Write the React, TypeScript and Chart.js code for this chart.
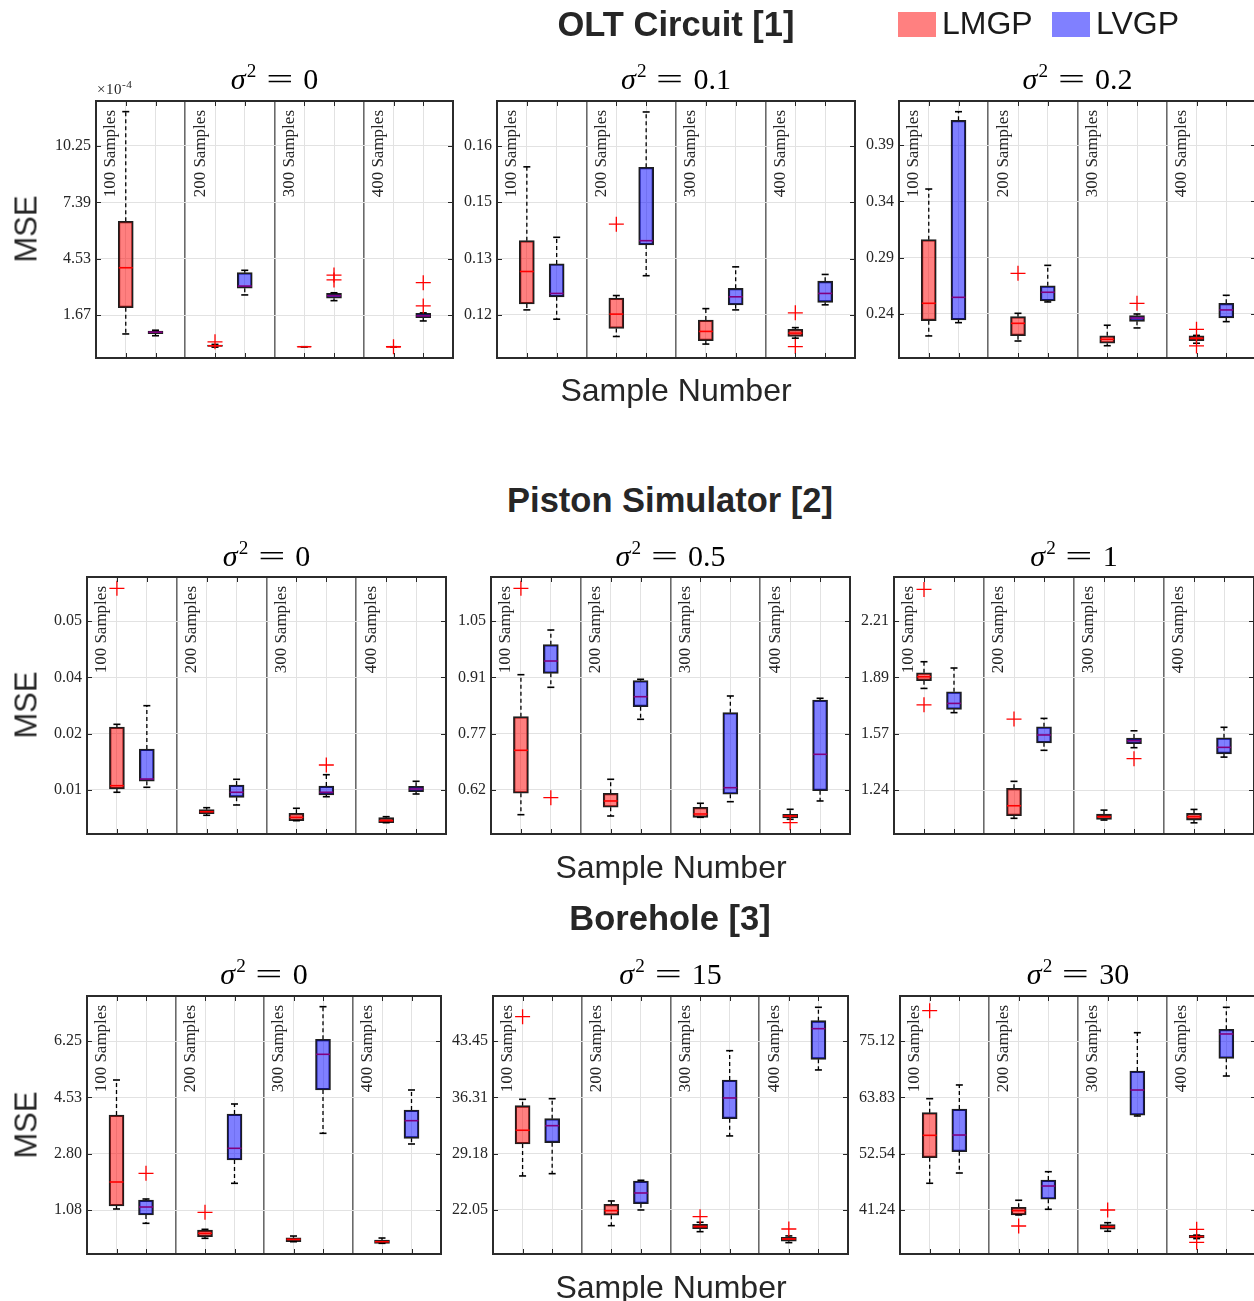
import React, { useEffect, useRef } from 'react';
import { Chart, registerables } from 'chart.js';

Chart.register(...registerables);

const GROUPS = ['100 Samples', '200 Samples', '300 Samples', '400 Samples'];
const SERIES = ['LMGP', 'LVGP'];

// Box statistics per group: [lower whisker, Q1, median, Q3, upper whisker]

// OLT Circuit [1], sigma^2 = 0   (MSE in units of 1e-4)
const olt0_LMGP = [
  [0.71, 2.04, 4.07, 6.43, 11.99],
  [0.04, 0.08, 0.11, 0.15, 0.18],
  [0.058, 0.059, 0.06, 0.061, 0.062],
  [0.058, 0.059, 0.06, 0.061, 0.062],
];
const olt0_LVGP = [
  [0.62, 0.72, 0.8, 0.86, 0.9],
  [2.69, 3.03, 3.14, 3.82, 3.94],
  [2.4, 2.52, 2.65, 2.77, 2.8],
  [1.37, 1.53, 1.63, 1.76, 1.78],
];
const olt0_LMGP_out = [[], [0.31], [], [0.06]];
const olt0_LVGP_out = [[], [], [3.45, 3.7], [2.13, 3.31]];
const olt0_ticks = [1.67, 4.53, 7.39, 10.25];
const olt0_tickLabels = ['1.67', '4.53', '7.39', '10.25'];
const olt0_range = [-0.51, 12.53];

// OLT Circuit [1], sigma^2 = 0.1
const olt1_LMGP = [
  [0.1212, 0.1226, 0.1303, 0.1376, 0.1551],
  [0.1149, 0.1168, 0.1202, 0.124, 0.1246],
  [0.1131, 0.1139, 0.1161, 0.1188, 0.1215],
  [0.1145, 0.1149, 0.1157, 0.1166, 0.117],
];
const olt1_LVGP = [
  [0.119, 0.1243, 0.1251, 0.1321, 0.1384],
  [0.1293, 0.1366, 0.1376, 0.155, 0.1681],
  [0.1212, 0.1224, 0.1243, 0.1263, 0.1314],
  [0.1224, 0.123, 0.1251, 0.128, 0.1296],
];
const olt1_LMGP_out = [[], [0.1415], [], [0.1205, 0.1125]];
const olt1_LVGP_out = [[], [], [], []];
const olt1_ticks = [0.12, 0.1333, 0.1467, 0.16];
const olt1_tickLabels = ['0.12', '0.13', '0.15', '0.16'];
const olt1_range = [0.1098, 0.1707];

// OLT Circuit [1], sigma^2 = 0.2
const olt2_LMGP = [
  [0.2205, 0.2341, 0.2495, 0.306, 0.351],
  [0.216, 0.2207, 0.2317, 0.2376, 0.2406],
  [0.2118, 0.214, 0.2175, 0.2207, 0.23],
  [0.214, 0.2163, 0.2184, 0.2205, 0.221],
];
const olt2_LVGP = [
  [0.2323, 0.2347, 0.2548, 0.412, 0.4197],
  [0.2507, 0.2515, 0.2593, 0.2651, 0.2832],
  [0.2276, 0.2335, 0.2364, 0.2385, 0.24],
  [0.2332, 0.2364, 0.2436, 0.2495, 0.2566],
];
const olt2_LMGP_out = [[], [0.2761], [], [0.2264, 0.2116]];
const olt2_LVGP_out = [[], [], [0.2495], []];
const olt2_ticks = [0.24, 0.29, 0.34, 0.39];
const olt2_tickLabels = ['0.24', '0.29', '0.34', '0.39'];
const olt2_range = [0.2009, 0.4292];

// Piston Simulator [2], sigma^2 = 0
const pis0_LMGP = [
  [0.00946, 0.01024, 0.01102, 0.02491, 0.02555],
  [0.00401, 0.00439, 0.00486, 0.00534, 0.00581],
  [0.00273, 0.00273, 0.00354, 0.00448, 0.00567],
  [0.00226, 0.00226, 0.00273, 0.00344, 0.00368],
];
const pis0_LVGP = [
  [0.01064, 0.01206, 0.0126, 0.01971, 0.02996],
  [0.00645, 0.00827, 0.00946, 0.01118, 0.01253],
  [0.00841, 0.00882, 0.00946, 0.01095, 0.01362],
  [0.00905, 0.0096, 0.01024, 0.01088, 0.01206],
];
const pis0_LMGP_out = [[0.05775], [], [], []];
const pis0_LVGP_out = [[], [], [0.01592], []];
const pis0_ticks = [0.01, 0.02333, 0.03667, 0.05];
const pis0_tickLabels = ['0.01', '0.02', '0.04', '0.05'];
const pis0_range = [-0.00042, 0.06043];

// Piston Simulator [2], sigma^2 = 0.5
const pis1_LMGP = [
  [0.5617, 0.6157, 0.7241, 0.8089, 0.9148],
  [0.5584, 0.5804, 0.5963, 0.6157, 0.651],
  [0.5551, 0.5551, 0.5635, 0.5804, 0.5905],
  [0.5501, 0.5534, 0.5584, 0.5627, 0.5753],
];
const pis1_LVGP = [
  [0.883, 0.9183, 0.9493, 0.9905, 1.0275],
  [0.8023, 0.8341, 0.8593, 0.8997, 0.9032],
  [0.5945, 0.6132, 0.6298, 0.819, 0.8611],
  [0.5963, 0.6222, 0.714, 0.851, 0.8553],
];
const pis1_LMGP_out = [[1.1327], [], [], [0.5415]];
const pis1_LVGP_out = [[0.6046], [], [], []];
const pis1_ticks = [0.624, 0.766, 0.908, 1.05];
const pis1_tickLabels = ['0.62', '0.77', '0.91', '1.05'];
const pis1_range = [0.513, 1.1612];

// Piston Simulator [2], sigma^2 = 1
const pis2_LMGP = [
  [1.826, 1.87, 1.893, 1.916, 1.979],
  [1.081, 1.096, 1.153, 1.253, 1.293],
  [1.071, 1.075, 1.09, 1.105, 1.128],
  [1.055, 1.071, 1.09, 1.109, 1.132],
];
const pis2_LVGP = [
  [1.687, 1.706, 1.74, 1.807, 1.943],
  [1.471, 1.514, 1.559, 1.606, 1.654],
  [1.486, 1.509, 1.526, 1.541, 1.583],
  [1.432, 1.451, 1.488, 1.543, 1.603],
];
const pis2_LMGP_out = [[2.394, 1.732], [1.65], [], []];
const pis2_LVGP_out = [[], [], [1.423], []];
const pis2_ticks = [1.243, 1.566, 1.889, 2.212];
const pis2_tickLabels = ['1.24', '1.57', '1.89', '2.21'];
const pis2_range = [0.991, 2.465];

// Borehole [3], sigma^2 = 0
const bor0_LMGP = [
  [1.111, 1.202, 1.937, 3.987, 5.058],
  [0.214, 0.263, 0.367, 0.468, 0.489],
  [0.11, 0.11, 0.183, 0.232, 0.284],
  [0.061, 0.061, 0.11, 0.162, 0.223],
];
const bor0_LVGP = [
  [0.673, 0.927, 1.172, 1.386, 1.417],
  [1.897, 2.61, 2.968, 4.018, 4.324],
  [3.427, 4.752, 5.844, 6.303, 7.301],
  [3.1, 3.274, 3.813, 4.14, 4.752],
];
const bor0_LMGP_out = [[], [1.01], [], []];
const bor0_LVGP_out = [[2.203], [], [], []];
const bor0_ticks = [1.08, 2.803, 4.526, 6.249];
const bor0_tickLabels = ['1.08', '2.80', '4.53', '6.25'];
const bor0_range = [-0.266, 7.628];

// Borehole [3], sigma^2 = 15
const bor1_LMGP = [
  [26.36, 30.41, 32.15, 35.26, 36.07],
  [20.06, 21.38, 21.96, 22.77, 23.19],
  [19.3, 19.68, 19.94, 20.24, 20.49],
  [17.91, 18.08, 18.38, 18.59, 18.76],
];
const bor1_LVGP = [
  [26.65, 30.58, 32.73, 33.62, 36.15],
  [22.05, 22.85, 24.2, 25.72, 25.81],
  [31.43, 33.62, 36.24, 38.52, 42.23],
  [39.79, 41.14, 45.02, 46.03, 47.73],
];
const bor1_LMGP_out = [[46.54], [], [21.2], [19.64]];
const bor1_LVGP_out = [[], [], [], []];
const bor1_ticks = [22.05, 29.18, 36.31, 43.45];
const bor1_tickLabels = ['22.05', '29.18', '36.31', '43.45'];
const bor1_range = [16.47, 49.16];

// Borehole [3], sigma^2 = 30
const bor2_LMGP = [
  [46.6, 51.73, 56.22, 60.76, 63.57],
  [40.24, 40.24, 41.1, 41.78, 43.19],
  [36.97, 37.37, 37.89, 38.29, 38.69],
  [35.5, 35.62, 35.9, 36.16, 36.2],
];
const bor2_LVGP = [
  [48.66, 52.93, 56.28, 61.5, 66.32],
  [41.38, 43.39, 46.05, 47.26, 48.92],
  [60.1, 60.24, 65.31, 69.12, 76.81],
  [68.12, 71.67, 76.55, 77.49, 81.9],
];
const bor2_LMGP_out = [[81.22], [38.03], [41.24], [37.37, 34.76]];
const bor2_LVGP_out = [[], [], [], []];
const bor2_ticks = [41.24, 52.54, 63.83, 75.12];
const bor2_tickLabels = ['41.24', '52.54', '63.83', '75.12'];
const bor2_range = [32.41, 84.17];

// ---------- layout / styling ----------
const FILL = ['rgba(255,0,0,0.5)', 'rgba(0,0,255,0.5)'];
const MEDIAN = ['#ff0000', '#800080'];
const SERIF = '"Liberation Serif", "Times New Roman", serif';
const SANS = '"Liberation Sans", Arial, sans-serif';

const PANELS = [
  { sigma: '0', lmgp: olt0_LMGP, lvgp: olt0_LVGP, lo: olt0_LMGP_out, vo: olt0_LVGP_out, ticks: olt0_ticks, labels: olt0_tickLabels, range: olt0_range, box: { l: 96, t: 101, r: 453, b: 358 } },
  { sigma: '0.1', lmgp: olt1_LMGP, lvgp: olt1_LVGP, lo: olt1_LMGP_out, vo: olt1_LVGP_out, ticks: olt1_ticks, labels: olt1_tickLabels, range: olt1_range, box: { l: 497, t: 101, r: 855, b: 358 } },
  { sigma: '0.2', lmgp: olt2_LMGP, lvgp: olt2_LVGP, lo: olt2_LMGP_out, vo: olt2_LVGP_out, ticks: olt2_ticks, labels: olt2_tickLabels, range: olt2_range, box: { l: 899, t: 101, r: 1256, b: 358 } },
  { sigma: '0', lmgp: pis0_LMGP, lvgp: pis0_LVGP, lo: pis0_LMGP_out, vo: pis0_LVGP_out, ticks: pis0_ticks, labels: pis0_tickLabels, range: pis0_range, box: { l: 87, t: 577, r: 446, b: 834 } },
  { sigma: '0.5', lmgp: pis1_LMGP, lvgp: pis1_LVGP, lo: pis1_LMGP_out, vo: pis1_LVGP_out, ticks: pis1_ticks, labels: pis1_tickLabels, range: pis1_range, box: { l: 491, t: 577, r: 850, b: 834 } },
  { sigma: '1', lmgp: pis2_LMGP, lvgp: pis2_LVGP, lo: pis2_LMGP_out, vo: pis2_LVGP_out, ticks: pis2_ticks, labels: pis2_tickLabels, range: pis2_range, box: { l: 894, t: 577, r: 1254, b: 834 } },
  { sigma: '0', lmgp: bor0_LMGP, lvgp: bor0_LVGP, lo: bor0_LMGP_out, vo: bor0_LVGP_out, ticks: bor0_ticks, labels: bor0_tickLabels, range: bor0_range, box: { l: 87, t: 996, r: 441, b: 1254 } },
  { sigma: '15', lmgp: bor1_LMGP, lvgp: bor1_LVGP, lo: bor1_LMGP_out, vo: bor1_LVGP_out, ticks: bor1_ticks, labels: bor1_tickLabels, range: bor1_range, box: { l: 493, t: 996, r: 848, b: 1254 } },
  { sigma: '30', lmgp: bor2_LMGP, lvgp: bor2_LVGP, lo: bor2_LMGP_out, vo: bor2_LVGP_out, ticks: bor2_ticks, labels: bor2_tickLabels, range: bor2_range, box: { l: 900, t: 996, r: 1256, b: 1254 } },
];

const pos = (g: number, s: number) => g * 3 + 1 + s;

function makeConfig(p: any): any {
  const stats = [p.lmgp, p.lvgp];
  const outs = [p.lo, p.vo];
  const datasets: any[] = [];
  stats.forEach((st: number[][], s: number) => {
    datasets.push({
      type: 'bar',
      label: SERIES[s],
      data: st.map((r, g) => ({ x: pos(g, s), y: [r[1], r[3]] })),
      backgroundColor: FILL[s],
      borderColor: '#1e1e1e',
      borderWidth: 1.6,
      borderSkipped: false,
      barThickness: 15,
      grouped: false,
      order: 3,
    });
    const wh: any[] = [];
    st.forEach((r, g) => {
      const x = pos(g, s);
      wh.push({ x, y: r[3] }, { x, y: r[4] }, { x, y: null }, { x, y: r[1] }, { x, y: r[0] }, { x, y: null });
    });
    datasets.push({
      type: 'line',
      data: wh,
      borderColor: '#000',
      borderWidth: 1.3,
      borderDash: [4, 3],
      pointRadius: 0,
      spanGaps: false,
      fill: false,
      order: 4,
    });
    const caps: any[] = [];
    st.forEach((r, g) => caps.push({ x: pos(g, s), y: r[4] }, { x: pos(g, s), y: r[0] }));
    datasets.push({
      type: 'scatter', data: caps, pointStyle: 'line', pointRadius: 3.5,
      pointBorderColor: '#000', borderColor: '#000', pointBorderWidth: 1.6, borderWidth: 1.6, order: 2,
    });
    datasets.push({
      type: 'scatter', data: st.map((r, g) => ({ x: pos(g, s), y: r[2] })), pointStyle: 'line', pointRadius: 7,
      pointBorderColor: MEDIAN[s], borderColor: MEDIAN[s], pointBorderWidth: 1.6, borderWidth: 1.6, order: 1,
    });
    const od: any[] = [];
    outs[s].forEach((arr: number[], g: number) => arr.forEach((v) => od.push({ x: pos(g, s), y: v })));
    datasets.push({
      type: 'scatter', data: od, pointStyle: 'cross', pointRadius: 7.5,
      pointBorderColor: '#ff0000', borderColor: '#ff0000', pointBorderWidth: 1.3, borderWidth: 1.3, order: 0,
    });
  });

  const decor = {
    id: 'decor',
    afterDraw(chart: any) {
      const { ctx, chartArea: a, scales } = chart;
      const xs = scales.x;
      const ys = scales.y;
      ctx.save();
      const seg = (x1: number, y1: number, x2: number, y2: number) => {
        ctx.beginPath(); ctx.moveTo(x1, y1); ctx.lineTo(x2, y2); ctx.stroke();
      };
      ctx.strokeStyle = '#262626';
      ctx.lineWidth = 1;
      ys.ticks.forEach((t: any) => {
        const y = Math.round(ys.getPixelForValue(t.value)) + 0.5;
        seg(a.left, y, a.left + 5, y);
        seg(a.right - 5, y, a.right, y);
      });
      for (let g = 0; g < 4; g++) for (let s = 0; s < 2; s++) {
        const x = Math.round(xs.getPixelForValue(pos(g, s))) + 0.5;
        seg(x, a.bottom - 5, x, a.bottom);
        seg(x, a.top, x, a.top + 5);
      }
      ctx.lineWidth = 2;
      ctx.strokeStyle = '#2b2b2b';
      ctx.strokeRect(a.left, a.top, a.right - a.left, a.bottom - a.top);
      ctx.fillStyle = '#262626';
      ctx.font = `17px ${SERIF}`;
      GROUPS.forEach((label, g) => {
        const x = xs.getPixelForValue(g * 3) + 15;
        ctx.save();
        ctx.translate(x, a.top + 9);
        ctx.rotate(-Math.PI / 2);
        ctx.textAlign = 'right';
        ctx.textBaseline = 'middle';
        ctx.fillText(label, 0, 0);
        ctx.restore();
      });
      ctx.restore();
    },
  };

  return {
    type: 'bar',
    data: { datasets },
    plugins: [decor],
    options: {
      responsive: false,
      maintainAspectRatio: false,
      animation: false,
      events: [],
      layout: { padding: { top: 20, right: 10, left: 0, bottom: 0 } },
      plugins: { legend: { display: false }, tooltip: { enabled: false }, title: { display: false } },
      scales: {
        x: {
          type: 'linear', min: 0, max: 12, offset: false,
          afterBuildTicks: (sc: any) => { sc.ticks = Array.from({ length: 13 }, (_, i) => ({ value: i })); },
          afterFit: (sc: any) => { sc.height = 20; },
          ticks: { display: false },
          grid: {
            offset: false, drawTicks: false,
            color: (c: any) => {
              const v = c.tick ? c.tick.value : 0;
              if (v === 0 || v === 12) return 'rgba(0,0,0,0)';
              return v % 3 === 0 ? '#6a6a6a' : '#e2e2e2';
            },
            lineWidth: (c: any) => {
              const v = c.tick ? c.tick.value : 0;
              return v % 3 === 0 ? 1.6 : 1;
            },
          },
          border: { display: false },
        },
        y: {
          type: 'linear', min: p.range[0], max: p.range[1],
          afterBuildTicks: (sc: any) => { sc.ticks = p.ticks.map((v: number) => ({ value: v })); },
          afterFit: (sc: any) => { sc.width = 70; },
          ticks: {
            callback: (_v: any, i: number) => p.labels[i],
            font: { family: SERIF, size: 16 },
            color: '#262626',
            padding: 5,
            autoSkip: false,
          },
          grid: { drawTicks: false, color: '#e2e2e2', lineWidth: 1 },
          border: { display: false },
        },
      },
    },
  };
}

function Panel({ p }: { p: any }) {
  const ref = useRef<HTMLCanvasElement>(null);
  const W = p.box.r - p.box.l + 80;
  const H = p.box.b - p.box.t + 40;
  useEffect(() => {
    const canvas = ref.current as HTMLCanvasElement;
    const chart = new Chart(canvas, makeConfig(p));
    const a = chart.chartArea;
    canvas.style.left = `${p.box.l - a.left}px`;
    canvas.style.top = `${p.box.t - a.top}px`;
    return () => chart.destroy();
  }, []);
  return (
    <canvas
      ref={ref}
      width={W}
      height={H}
      style={{ position: 'absolute', left: p.box.l - 70, top: p.box.t - 20, width: W, height: H }}
    />
  );
}

function Sigma({ value, cx, cy }: { value: string; cx: number; cy: number }) {
  return (
    <div style={{ position: 'absolute', left: cx, top: cy, transform: 'translate(-50%,-50%)', fontFamily: SERIF, fontSize: 30, lineHeight: 1, whiteSpace: 'nowrap', color: '#000' }}>
      <span style={{ fontStyle: 'italic' }}>σ</span>
      <span style={{ fontSize: '0.64em', position: 'relative', top: '-0.62em', marginLeft: 1 }}>2</span>
      <span style={{ display: 'inline-block', transform: 'scaleX(1.6)', margin: '0 15px 0 15px' }}>=</span>
      <span>{value}</span>
    </div>
  );
}

function Text({ children, cx, cy, size, bold, rotate }: any) {
  return (
    <div style={{ position: 'absolute', left: cx, top: cy, transform: `translate(-50%,-50%)${rotate ? ' rotate(-90deg)' : ''}`, fontFamily: SANS, fontSize: size, fontWeight: bold ? 700 : 400, lineHeight: 1, whiteSpace: 'nowrap', color: '#262626' }}>
      {children}
    </div>
  );
}

const ROW_Y = [{ title: 24, sigma: 79, mid: 229, xl: 390 }, { title: 500, sigma: 556, mid: 705, xl: 867 }, { title: 918, sigma: 974, mid: 1125, xl: 1287 }];
const ROW_TITLES = ['OLT Circuit [1]', 'Piston Simulator [2]', 'Borehole [3]'];
const ROW_TITLE_X = [676, 670, 670];
const XLABEL_X = [676, 671, 671];

export default function App() {
  return (
    <div style={{ position: 'absolute', left: 0, top: 0, width: 1254, height: 1301, overflow: 'hidden', background: '#fff' }}>
      {PANELS.map((p, i) => <Panel key={i} p={p} />)}
      {PANELS.map((p, i) => (
        <Sigma key={'s' + i} value={p.sigma} cx={(p.box.l + p.box.r) / 2} cy={ROW_Y[Math.floor(i / 3)].sigma} />
      ))}
      {ROW_TITLES.map((t, r) => (
        <Text key={'t' + r} cx={ROW_TITLE_X[r]} cy={ROW_Y[r].title} size={34.5} bold>{t}</Text>
      ))}
      {ROW_Y.map((r, i) => (
        <React.Fragment key={'l' + i}>
          <Text cx={26} cy={r.mid} size={31} rotate>MSE</Text>
          <Text cx={XLABEL_X[i]} cy={r.xl} size={32}>Sample Number</Text>
        </React.Fragment>
      ))}
      <div style={{ position: 'absolute', left: 97, top: 82, fontFamily: SERIF, fontSize: 15, lineHeight: 1, color: '#262626', whiteSpace: 'nowrap', letterSpacing: 0.5 }}>
        ×10<span style={{ fontSize: '0.75em', position: 'relative', top: '-0.5em' }}>-4</span>
      </div>
      <div style={{ position: 'absolute', left: 898, top: 12, width: 38, height: 25, background: '#ff8080' }} />
      <div style={{ position: 'absolute', left: 942, top: 7, fontFamily: SANS, fontSize: 32, lineHeight: 1, color: '#1a1a1a' }}>{SERIES[0]}</div>
      <div style={{ position: 'absolute', left: 1052, top: 12, width: 38, height: 25, background: '#8080ff' }} />
      <div style={{ position: 'absolute', left: 1096, top: 7, fontFamily: SANS, fontSize: 32, lineHeight: 1, color: '#1a1a1a' }}>{SERIES[1]}</div>
    </div>
  );
}
